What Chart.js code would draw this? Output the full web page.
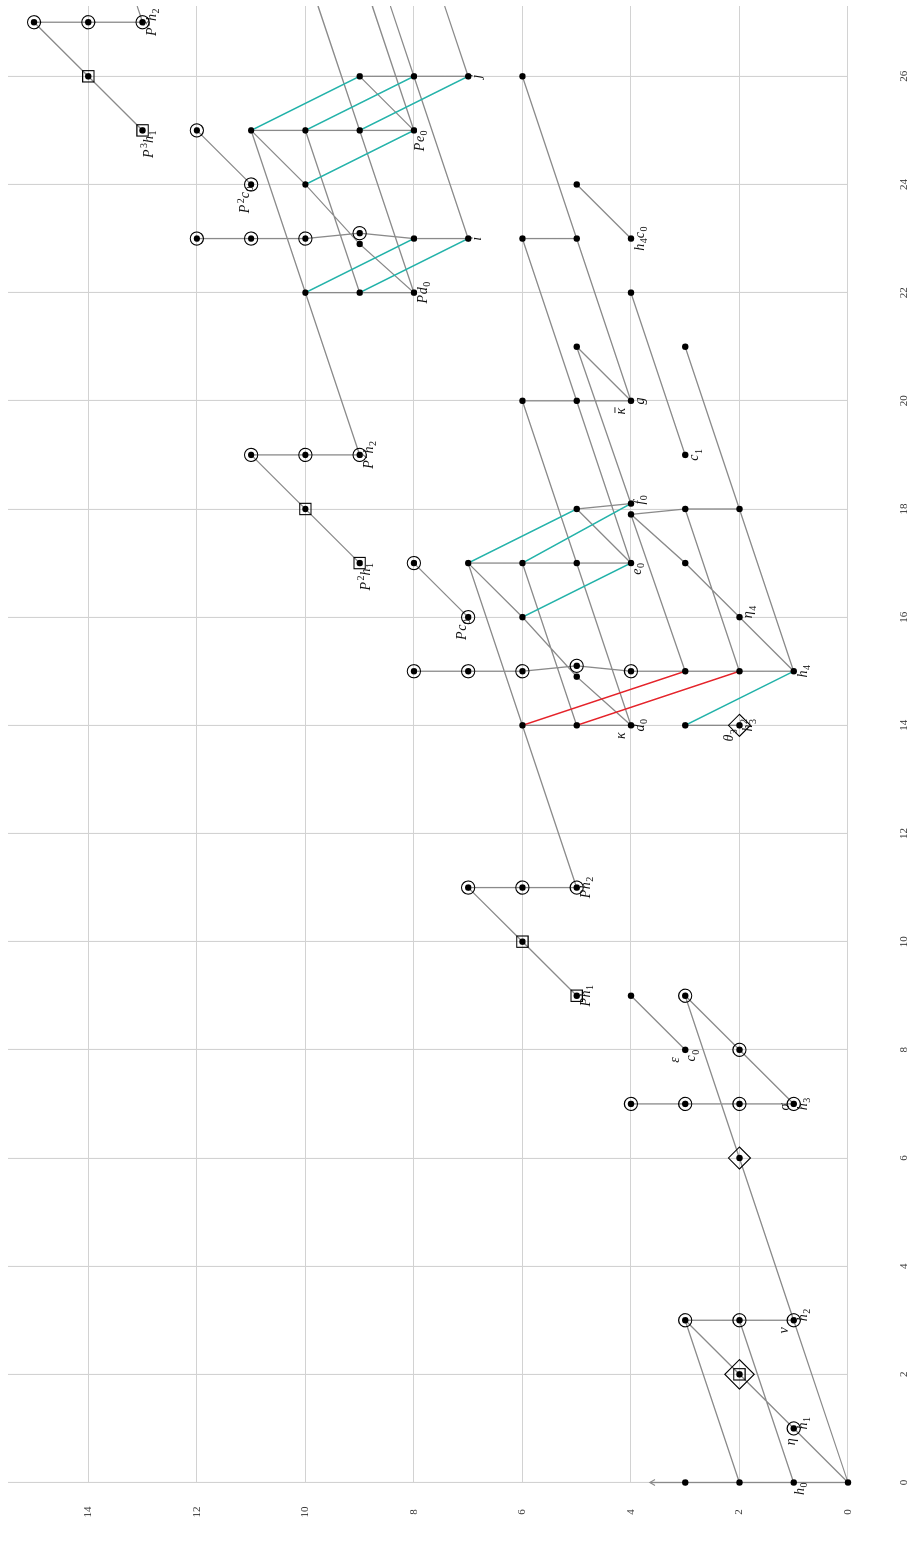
<!DOCTYPE html>
<html>
<head>
<meta charset="utf-8">
<title>Adams chart</title>
<script src="https://cdn.jsdelivr.net/npm/chart.js@4.4.1/dist/chart.umd.min.js"></script>
<style>
  html, body { margin: 0; padding: 0; background: #fff; width: 915px; height: 1549px; overflow: hidden; }
  /* the chart is drawn landscape and turned a quarter turn, like the printed page */
  #wrap { position: absolute; left: 0; top: 0; width: 1549px; height: 915px;
          transform-origin: 0 0; transform: translateY(1549px) rotate(-90deg); }
</style>
</head>
<body>
<div id="wrap"><canvas id="adams" width="1549" height="915"></canvas></div>
<script>
// tick labels
const stemTicks = [0, 2, 4, 6, 8, 10, 12, 14, 16, 18, 20, 22, 24, 26];
const filtTicks = [0, 2, 4, 6, 8, 10, 12, 14];

// every class: [stem, filtration]
const classes = [
  [0,0],[0,1],[0,2],[0,3],
  [1,1],[2,2],[3,1],[3,2],[3,3],
  [6,2],[7,1],[7,2],[7,3],[7,4],
  [8,2],[8,3],[9,3],[9,4],[9,5],[10,6],
  [11,5],[11,6],[11,7],
  [14,2],[14,3],[14,4],[14,5],[14,6],
  [15,1],[15,2],[15,3],[15,4],[15.1,5],[14.9,5],[15,6],[15,7],[15,8],
  [16,2],[16,6],[16,7],
  [17,3],[17,4],[17,5],[17,6],[17,7],[17,8],[17,9],
  [18,2],[18,3],[18.1,4],[17.9,4],[18,5],[18,10],
  [19,3],[19,9],[19,10],[19,11],
  [20,4],[20,5],[20,6],
  [21,3],[21,5],
  [22,4],[22,8],[22,9],[22,10],
  [23,4],[23,5],[23,6],[23,7],[23,8],[23.1,9],[22.9,9],[23,10],[23,11],[23,12],
  [24,5],[24,10],[24,11],
  [25,8],[25,9],[25,10],[25,11],[25,12],[25,13],
  [26,6],[26,7],[26,8],[26,9],[26,14],
  [27,13],[27,14],[27,15]
];
const circled = [
  [1,1],[3,1],[3,2],[3,3],[7,1],[7,2],[7,3],[7,4],[8,2],[9,3],[11,5],[11,6],[11,7],
  [15,4],[15.1,5],[15,6],[15,7],[15,8],[16,7],[17,8],[19,9],[19,10],[19,11],
  [23.1,9],[23,10],[23,11],[23,12],[24,11],[25,12],[27,13],[27,14],[27,15]
];
const boxed = [[2,2],[9,5],[10,6],[17,9],[18,10],[25,13],[26,14]];
const diamonds = [[2,2],[6,2],[14,2]];

// h0 tower that goes on: [stem, from, to]
const towers = [[0, 0, 3.65]];

// h0, h1, h2 multiplications: [stem1, filt1, stem2, filt2]
const products = [
  [0,0,1,1],[1,1,2,2],[2,2,3,3],
  [7,1,8,2],[8,2,9,3],[8,3,9,4],
  [9,5,10,6],[10,6,11,7],
  [14,4,14.9,5],[14.9,5,16,6],[16,6,17,7],
  [15,1,16,2],[16,2,17,3],[17,3,17.9,4],
  [17,4,18,5],[16,7,17,8],
  [17,9,18,10],[18,10,19,11],
  [20,4,21,5],[23,4,24,5],
  [22,8,22.9,9],[22.9,9,24,10],[24,10,25,11],
  [25,8,26,9],[24,11,25,12],
  [25,13,26,14],[26,14,27,15],
  [3,1,3,3],[7,1,7,4],[11,5,11,7],
  [14,2,14,3],[14,4,14,6],
  [15,1,15,4],[15,4,15.1,5],[15.1,5,15,6],[15,6,15,8],
  [17,4,17,7],
  [18,2,18,3],[18,3,17.9,4],[18.1,4,18,5],
  [19,9,19,11],[20,4,20,6],[23,5,23,6],
  [22,8,22,10],
  [23,7,23,8],[23,8,23.1,9],[23.1,9,23,10],[23,10,23,12],
  [25,8,25,11],[26,7,26,9],[27,13,27,15],
  [0,0,3,1],[0,1,3,2],[0,2,3,3],
  [3,1,6,2],[6,2,9,3],
  [11,5,14,6],[14,6,17,7],
  [14,4,17,5],[17,5,20,6],[14,5,17,6],
  [15,1,18,2],[18,2,21,3],[15,2,18,3],[15,3,17.9,4],
  [17,4,20,5],[20,5,23,6],[18.1,4,21,5],
  [20,4,23,5],[23,5,26,6],[19,3,22,4],
  [19,9,22,10],[22,10,25,11],
  [22,8,25,9],[25,9,28,10],[22,9,25,10],
  [25,8,28,9],[23,7,26,8],[26,8,29,9],[26,7,29,8],
  [27,13,30,14]
];
// differentials
const d2diffs = [
  [15,1,14,3],[17,4,16,6],[18.1,4,17,6],[18,5,17,7],
  [23,7,22,9],[23,8,22,10],[25,8,24,10],[26,7,25,9],[26,8,25,10],[26,9,25,11]
];
const d3diffs = [[15,2,14,5],[15,3,14,6]];

// names: [stem, filtration, text, side]
const labels = [
  [0,1,'h_0','bl'],
  [1,1,'h_1','br'],[1,1,'η','l'],
  [3,1,'h_2','br'],[3,1,'ν','al'],
  [7,1,'h_3','b'],[7,1,'σ','a'],
  [8,3,'c_0','bl'],[8,3,'ε','al'],
  [9,5,'Ph_1','b'],[11,5,'Ph_2','b'],
  [14,2,'h_3^2','b'],[14,2,'θ_3','al'],
  [14,4,'d_0','b'],[14,4,'κ','al'],
  [15,1,'h_4','b'],
  [16,2,'η_4','br'],
  [16,7,'Pc_0','ul'],
  [17,4,'e_0','bl'],
  [18.1,4,'f_0','br'],
  [17,9,'P^2h_1','bl'],
  [19,9,'P^2h_2','b'],
  [19,3,'c_1','b'],
  [20,4,'g','b'],[20,4,'!κ','al'],
  [22,8,'Pd_0','b'],
  [23,7,'i','b'],
  [23,4,'h_4c_0','b'],
  [24,11,'P^2c_0','ul'],
  [25,8,'Pe_0','bl'],
  [26,7,'j','b'],
  [25,13,'P^3h_1','bl'],
  [27,13,'P^3h_2','b']
];

const PLACE = {
  b:  {align: 'center', dx: 0,   dy: 9},
  br: {align: 'left',   dx: -1,  dy: 9},
  bl: {align: 'right',  dx: 0,   dy: 6},
  al: {align: 'center', dx: -10, dy: -10},
  a:  {align: 'center', dx: -3,  dy: -9},
  l:  {align: 'center', dx: -13, dy: -3},
  ul: {align: 'right',  dx: -2,  dy: -6}
};
const MAIN_FONT = 'italic 14px "Liberation Serif"';
const SCRIPT_FONT = '10px "Liberation Serif"';
const GRAY = '#8a8a8a';

function pts(list) {
  return list.map(p => ({x: p[0], y: p[1]}));
}
// segments joined in one path, broken by empty points
function toPath(segs) {
  let out = [];
  segs.forEach(s => {
    out.push({x: s[0], y: s[1]}, {x: s[2], y: s[3]}, {x: s[2], y: null});
  });
  return out;
}
function isBoxed(p) {
  return boxed.some(b => b[0] === p.x && b[1] === p.y);
}

function drawLabel(ctx, px, py, text, place) {
  const p = PLACE[place];
  let toks = [];
  for (let i = 0; i < text.length; i++) {
    const c = text[i];
    if (c === '_' || c === '^') toks.push({ch: text[++i], kind: c});
    else if (c === '!') toks.push({ch: text[++i], kind: 'n', bar: true});
    else toks.push({ch: c, kind: 'n'});
  }
  let x = 0, start = 0, prev = 'n';
  toks.forEach(t => {
    ctx.font = t.kind === 'n' ? MAIN_FONT : SCRIPT_FONT;
    t.w = ctx.measureText(t.ch).width;
    if (t.kind !== 'n' && prev !== 'n' && prev !== t.kind) {
      t.x = start;
      x = Math.max(x, start + t.w);
    } else if (t.kind !== 'n') {
      start = x + (t.kind === '^' ? 1 : 0);
      t.x = start;
      x = start + t.w;
    } else {
      t.x = x;
      x = x + t.w + 0.5;
    }
    prev = t.kind;
  });
  let x0 = px + p.dx;
  if (p.align === 'center') x0 -= x / 2;
  else if (p.align === 'right') x0 -= x;
  const base = py + p.dy + 4;
  ctx.save();
  ctx.fillStyle = '#111';
  ctx.strokeStyle = '#111';
  ctx.textAlign = 'left';
  ctx.textBaseline = 'alphabetic';
  toks.forEach(t => {
    ctx.font = t.kind === 'n' ? MAIN_FONT : SCRIPT_FONT;
    const yb = t.kind === '_' ? base + 3.5 : (t.kind === '^' ? base - 5.5 : base);
    ctx.fillText(t.ch, x0 + t.x, yb);
    if (t.bar) {
      ctx.lineWidth = 0.9;
      ctx.beginPath();
      ctx.moveTo(x0 + t.x + 1.5, base - 10);
      ctx.lineTo(x0 + t.x + t.w + 0.5, base - 10);
      ctx.stroke();
    }
  });
  ctx.restore();
}

const decorations = {
  id: 'decorations',
  afterDatasetsDraw(chart) {
    const ctx = chart.ctx;
    const xs = chart.scales.x, ys = chart.scales.y;
    // open arrow heads on the towers
    towers.forEach(t => {
      const px = xs.getPixelForValue(t[0]);
      const py = ys.getPixelForValue(t[2]);
      ctx.save();
      ctx.strokeStyle = GRAY;
      ctx.lineWidth = 1.2;
      ctx.beginPath();
      ctx.moveTo(px - 3, py + 5);
      ctx.lineTo(px, py);
      ctx.lineTo(px + 3, py + 5);
      ctx.stroke();
      ctx.restore();
    });
    labels.forEach(l => {
      drawLabel(ctx, xs.getPixelForValue(l[0]), ys.getPixelForValue(l[1]), l[2], l[3]);
    });
  }
};

const lineSegs = products.concat(towers.map(t => [t[0], t[1], t[0], t[2]]));

new Chart(document.getElementById('adams'), {
  type: 'scatter',
  data: {
    datasets: [
      {label: 'classes', data: pts(classes), pointRadius: 3.2, pointBackgroundColor: '#000',
       pointBorderWidth: 0, order: 0, clip: false},
      {label: 'circled', data: pts(circled), pointStyle: 'circle', pointRadius: 6.6,
       pointBackgroundColor: 'rgba(0,0,0,0)', pointBorderColor: '#000', pointBorderWidth: 1.1, order: 1, clip: false},
      {label: 'boxed', data: pts(boxed), pointStyle: 'rect', pointRadius: 8,
       pointBackgroundColor: 'rgba(0,0,0,0)', pointBorderColor: '#000', pointBorderWidth: 1.1, order: 1, clip: false},
      {label: 'diamonds', data: pts(diamonds), pointStyle: 'rectRot',
       pointRadius: c => isBoxed(c.raw) ? 14.7 : 11,
       pointBackgroundColor: 'rgba(0,0,0,0)', pointBorderColor: '#000', pointBorderWidth: 1.1, order: 1, clip: false},
      {label: 'd3', data: toPath(d3diffs), showLine: true, borderColor: '#e5242b', borderWidth: 1.5,
       pointRadius: 0, order: 3},
      {label: 'd2', data: toPath(d2diffs), showLine: true, borderColor: '#25b3aa', borderWidth: 1.5,
       pointRadius: 0, order: 3},
      {label: 'products', data: toPath(lineSegs), showLine: true, borderColor: GRAY, borderWidth: 1.3,
       pointRadius: 0, order: 4, clip: {left: 4, top: 0, right: 0, bottom: 4}}
    ]
  },
  options: {
    responsive: false,
    maintainAspectRatio: false,
    animation: false,
    events: [],
    layout: {autoPadding: false, padding: {top: 8, right: 6, left: 0, bottom: 0}},
    plugins: {legend: {display: false}, tooltip: {enabled: false}},
    scales: {
      x: {
        type: 'linear', position: 'bottom', min: 0, max: 27.3,
        afterFit: sc => { sc.height = 67; sc.paddingLeft = 0; sc.paddingRight = 0; },
        afterBuildTicks: sc => { sc.ticks = stemTicks.map(v => ({value: v})); },
        grid: {color: '#d2d2d2', lineWidth: 1.1, drawTicks: false},
        border: {display: false},
        ticks: {padding: 50, color: '#333', font: {family: 'Liberation Serif', size: 11}}
      },
      y: {
        type: 'linear', position: 'left', min: 0, max: 15.48,
        afterFit: sc => { sc.width = 66.5; sc.paddingTop = 0; sc.paddingBottom = 0; },
        afterBuildTicks: sc => { sc.ticks = filtTicks.map(v => ({value: v})); },
        grid: {color: '#d2d2d2', lineWidth: 1.1, drawTicks: false},
        border: {display: false},
        ticks: {padding: 24, crossAlign: 'center', color: '#333', font: {family: 'Liberation Serif', size: 11}}
      }
    }
  },
  plugins: [decorations]
});
</script>
</body>
</html>
